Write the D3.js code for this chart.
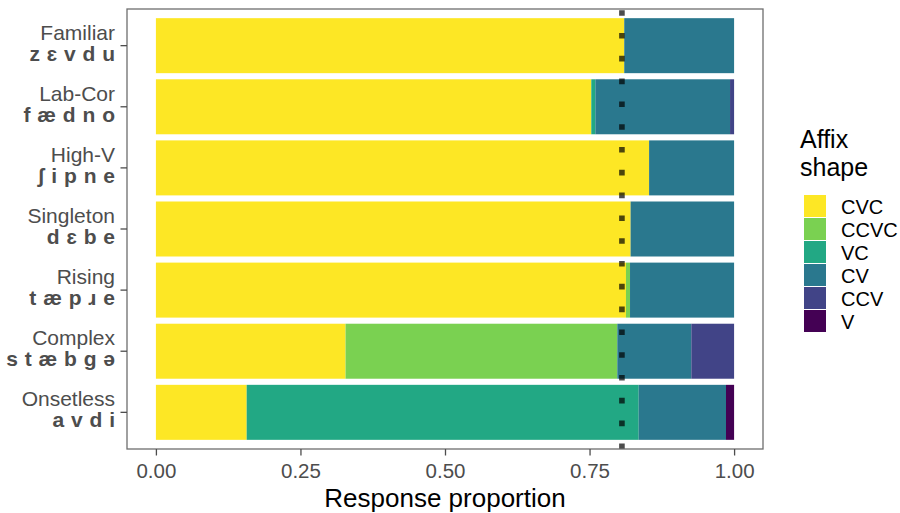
<!DOCTYPE html>
<html>
<head>
<meta charset="utf-8">
<script src="https://cdn.jsdelivr.net/npm/d3@7"></script>
<style>
  body { margin: 0; background: #fff; }
  svg { display: block; font-family: "Liberation Sans", Arial, "DejaVu Sans", sans-serif; }
</style>
</head>
<body>
<svg id="chart" width="900" height="513"></svg>
<script>
// Stimulus items (row label + IPA transcription)
const categories = ["Familiar", "Lab-Cor", "High-V", "Singleton", "Rising", "Complex", "Onsetless"];
const transcriptions = ["z ɛ v d u", "f æ d n o", "ʃ i p n e", "d ɛ b e", "t æ p ɹ e", "s t æ b g ə", "a v d i"];

// Affix shapes, in stacking order (left to right)
const shapes = ["CVC", "CCVC", "VC", "CV", "CCV", "V"];
const shapeColors = ["#FDE725", "#7AD151", "#22A884", "#2A788E", "#414487", "#440154"];

// Response proportions per affix shape, one value per item
const cvc  = [0.810, 0.753, 0.853, 0.821, 0.813, 0.328, 0.157];
const ccvc = [0.000, 0.000, 0.000, 0.000, 0.007, 0.470, 0.000];
const vc   = [0.000, 0.007, 0.000, 0.000, 0.000, 0.000, 0.678];
const cv   = [0.190, 0.233, 0.147, 0.179, 0.180, 0.128, 0.151];
const ccv  = [0.000, 0.007, 0.000, 0.000, 0.000, 0.074, 0.000];
const v    = [0.000, 0.000, 0.000, 0.000, 0.000, 0.000, 0.014];
const seriesValues = [cvc, ccvc, vc, cv, ccv, v];

// Reference proportion (dotted line)
const referenceLine = 0.806;

const xTicks = [0, 0.25, 0.5, 0.75, 1];

const svg = d3.select("#chart");
const panel = { left: 127, right: 763, top: 9, bottom: 449 };

const x = d3.scaleLinear().domain([-0.05, 1.05]).range([panel.left, panel.right]);
const y = d3.scaleBand().domain(categories).range([panel.top, panel.bottom])
  .paddingInner(0.1).paddingOuter(0.15);

// Build rows and stack them
const rows = categories.map((c, i) => {
  const r = { item: c };
  shapes.forEach((s, j) => { r[s] = seriesValues[j][i]; });
  return r;
});
const stacked = d3.stack().keys(shapes)(rows);
const color = d3.scaleOrdinal().domain(shapes).range(shapeColors);

// Bars
svg.append("g").selectAll("g")
  .data(stacked)
  .join("g")
  .attr("fill", d => color(d.key))
  .selectAll("rect")
  .data(d => d.filter(p => p[1] - p[0] > 0))
  .join("rect")
  .attr("x", d => x(d[0]))
  .attr("width", d => x(d[1]) - x(d[0]))
  .attr("y", d => y(d.data.item))
  .attr("height", y.bandwidth());

// Dotted reference line (drawn bottom to top)
svg.append("line")
  .attr("x1", x(referenceLine)).attr("x2", x(referenceLine))
  .attr("y1", panel.bottom).attr("y2", panel.top)
  .attr("stroke", "rgba(0,0,0,0.7)")
  .attr("stroke-width", 5.6)
  .attr("stroke-dasharray", "5.6,17.2");

// Panel border
svg.append("rect")
  .attr("x", panel.left).attr("y", panel.top)
  .attr("width", panel.right - panel.left).attr("height", panel.bottom - panel.top)
  .attr("fill", "none").attr("stroke", "#6e6e6e").attr("stroke-width", 1.3);

// X axis
const xAxis = svg.append("g")
  .attr("transform", `translate(0,${panel.bottom})`)
  .call(d3.axisBottom(x).tickValues(xTicks).tickFormat(d3.format(".2f")).tickSize(6.5).tickPadding(2));
xAxis.select(".domain").remove();
xAxis.selectAll(".tick line").attr("stroke", "#4d4d4d").attr("stroke-width", 1.3);
xAxis.selectAll(".tick text")
  .attr("fill", "#4d4d4d").attr("font-size", "20.5px")
  .attr("font-family", "Liberation Sans, Arial, sans-serif")
  .attr("dy", null).attr("y", 29);

// Y axis ticks
const yAxis = svg.append("g")
  .attr("transform", `translate(${panel.left},0)`)
  .call(d3.axisLeft(y).tickSize(6.5).tickFormat(""));
yAxis.select(".domain").remove();
yAxis.selectAll(".tick line").attr("stroke", "#4d4d4d").attr("stroke-width", 1.3);

// Two-line y labels: item name and bold transcription
const yLab = svg.append("g").selectAll("g")
  .data(categories)
  .join("g")
  .attr("transform", d => `translate(115,${y(d) + y.bandwidth() / 2})`);
yLab.append("text")
  .attr("text-anchor", "end").attr("y", -6)
  .attr("fill", "#4d4d4d").attr("font-size", "21px")
  .text(d => d);
yLab.append("text")
  .attr("text-anchor", "end").attr("y", 15)
  .attr("fill", "#4d4d4d").attr("font-size", "21px").attr("font-weight", "bold")
  .attr("word-spacing", "1px")
  .text((d, i) => transcriptions[i]);

// X axis title
svg.append("text")
  .attr("x", (panel.left + panel.right) / 2).attr("y", 507)
  .attr("text-anchor", "middle").attr("font-size", "26px").attr("fill", "#000")
  .text("Response proportion");

// Legend
const legend = svg.append("g");
legend.append("text").attr("x", 800).attr("y", 147.5).attr("font-size", "25px").text("Affix");
legend.append("text").attr("x", 800).attr("y", 175.5).attr("font-size", "25px").text("shape");
const keys = legend.selectAll("g.key")
  .data(shapes)
  .join("g").attr("class", "key")
  .attr("transform", (d, i) => `translate(804,${195 + i * 23})`);
keys.append("rect")
  .attr("width", 22).attr("height", 22)
  .attr("fill", d => color(d));
keys.append("text")
  .attr("x", 37).attr("y", 18.5)
  .attr("font-size", "20px").attr("fill", "#000")
  .text(d => d);
</script>
</body>
</html>
